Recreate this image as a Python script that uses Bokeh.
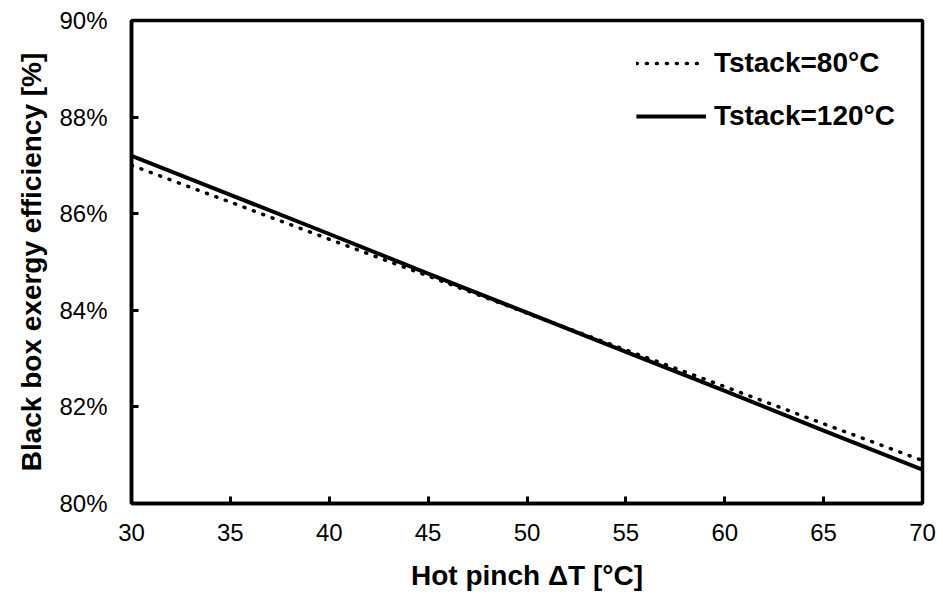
from bokeh.plotting import figure
from bokeh.models import FixedTicker, PrintfTickFormatter, Range1d, Legend, LegendItem
from bokeh.embed import file_html
from bokeh.resources import INLINE

pinch_dt = [30, 35, 40, 45, 50, 55, 60, 65, 70]
eff_80 = [87.00, 86.24, 85.47, 84.71, 83.94, 83.18, 82.42, 81.65, 80.89]
eff_120 = [87.20, 86.39, 85.58, 84.76, 83.95, 83.14, 82.33, 81.51, 80.70]
x_ticks = [30, 35, 40, 45, 50, 55, 60, 65, 70]
y_ticks = [80, 82, 84, 86, 88, 90]
labels = ["Tstack=80°C", "Tstack=120°C"]

FONT = "Liberation Sans"

p = figure(width=943, height=601, output_backend="svg", toolbar_location=None,
           frame_width=791, frame_height=483,
           min_border_left=131, min_border_right=21, min_border_top=20, min_border_bottom=98,
           x_range=Range1d(30, 70), y_range=Range1d(80, 90))

r80 = p.line(pinch_dt, eff_80, line_color="black", line_width=3.5, line_dash="1 9", line_cap="round")
r120 = p.line(pinch_dt, eff_120, line_color="black", line_width=4)

p.xgrid.visible = False
p.ygrid.visible = False
p.outline_line_color = "black"
p.outline_line_width = 3.5
p.outline_line_alpha = 1

for ax in (p.xaxis[0], p.yaxis[0]):
    ax.axis_line_color = "black"
    ax.axis_line_width = 3.5
    ax.major_tick_in = 7
    ax.major_tick_out = 0
    ax.major_tick_line_width = 3
    ax.minor_tick_line_color = None
    ax.major_label_text_font = FONT
    ax.major_label_text_font_size = "24px"
    ax.major_label_text_color = "black"
    ax.axis_label_text_font = FONT
    ax.axis_label_text_font_size = "28px"
    ax.axis_label_text_font_style = "bold"
    ax.axis_label_text_color = "black"

p.xaxis[0].ticker = FixedTicker(ticks=x_ticks)
p.yaxis[0].ticker = FixedTicker(ticks=y_ticks)
p.yaxis[0].formatter = PrintfTickFormatter(format="%d%%")
p.xaxis[0].axis_label = "Hot pinch ΔT [°C]"
p.yaxis[0].axis_label = "Black box exergy efficiency [%]"
p.xaxis[0].major_label_standoff = 20
p.yaxis[0].major_label_standoff = 24
p.xaxis[0].axis_label_standoff = 16
p.yaxis[0].axis_label_standoff = 9

legend = Legend(items=[LegendItem(label=labels[0], renderers=[r80]),
                       LegendItem(label=labels[1], renderers=[r120])],
                location="top_right")
legend.border_line_alpha = 0
legend.background_fill_alpha = 0
legend.label_text_font = FONT
legend.label_text_font_size = "28px"
legend.label_text_font_style = "bold"
legend.label_text_color = "black"
legend.glyph_width = 70
legend.label_standoff = 8
legend.spacing = 21
legend.margin = 0
legend.padding = 27
p.add_layout(legend)

open("out.html", "w").write(file_html(p, INLINE))
